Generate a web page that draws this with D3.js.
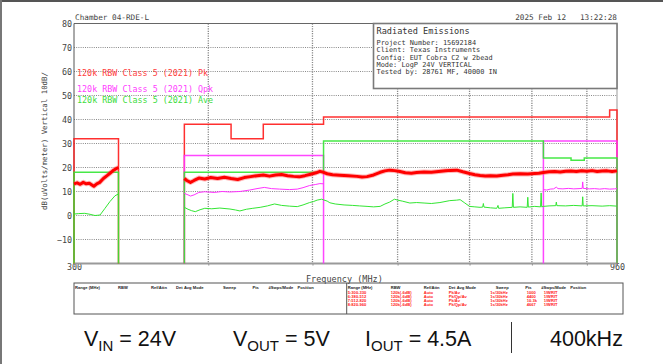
<!DOCTYPE html>
<html>
<head>
<meta charset="utf-8">
<script src="https://cdn.jsdelivr.net/npm/d3@7"></script>
<style>
  html, body { margin: 0; padding: 0; background: #fff; }
  svg { display: block; }
  .mono { font-family: "DejaVu Sans Mono", "Liberation Mono", monospace; }
</style>
</head>
<body>
<svg id="chart" width="663" height="364"></svg>
<script>
// ---- scan settings ----
const freqDomain = [300, 960];          // MHz, log axis
const levelDomain = [-20, 80];          // dB(uV/m)
const yTickValues = [80, 70, 60, 50, 40, 30, 20, 10, 0, -10];
const xGridValues = [400, 500, 600, 700, 800, 900];
const xTickLabels = [300, 960];

// ---- limit lines: [start MHz, stop MHz, level] ----
const pkLimit = [[300, 330, 32], [380, 420, 38], [420, 450, 32], [450, 512, 38], [512, 945, 41], [945, 960, 44]];
const qpLimit = [[380, 512, 25], [820, 960, 31]];
const avLimit = [[300, 330, 18], [380, 512, 18], [512, 820, 31], [820, 870, 24], [870, 895, 23], [895, 960, 24]];

// ---- measured traces: [MHz, level], null marks a gap between scan ranges ----
const pkTrace = [
  [300, 13.2], [302, 13.6], [304, 13.0], [306, 13.8], [308, 13.2], [310, 13.4], [312, 12.6], [313, 12.2],
  [315, 13.2], [317, 13.8], [319.5, 15.4], [322, 16.6], [324, 17.6], [326, 18.6], [328, 19.4], [330, 20.0],
  null,
  [380, 15.4], [382, 14.6], [385, 13.8], [388, 14.6], [392, 15.6], [397, 15.2], [402, 15.8], [408, 15.4],
  [414, 15.9], [420, 15.4], [426, 15.0], [432, 15.8], [438, 16.2], [444, 16.6], [450, 16.9], [456, 16.4],
  [462, 16.9], [468, 17.1], [474, 16.6], [480, 16.3], [486, 16.1], [492, 16.6], [498, 17.2], [504, 17.8],
  [508, 18.4], [512, 18.0],
  [516, 17.4], [522, 17.0], [530, 16.8], [540, 16.6], [550, 16.3], [556, 16.0], [562, 16.2], [570, 16.9],
  [578, 18.0], [584, 18.6], [590, 18.9], [596, 18.7], [603, 18.3], [610, 17.8], [618, 17.6], [625, 17.9],
  [635, 18.1], [645, 18.0], [655, 18.3], [665, 18.6], [672, 18.8], [681, 18.9], [690, 18.2], [700, 17.5],
  [708, 17.0], [716, 16.7], [724, 16.5], [732, 16.6], [742, 16.5], [752, 16.8], [760, 17.0], [768, 17.3],
  [780, 17.4], [793, 17.3], [805, 17.5], [812, 17.6], [820, 17.9],
  [830, 18.2], [840, 18.3], [850, 18.1], [860, 18.4], [870, 18.5], [880, 18.3], [890, 18.6], [900, 18.4],
  [910, 18.7], [920, 18.3], [930, 18.5], [940, 18.6], [950, 18.3], [960, 18.6]
];

const qpTrace = [
  null,
  [380, 9.2], [383, 8.6], [385, 8.1], [388, 8.6], [392, 9.6], [397, 9.9], [405, 9.6], [412, 10.0],
  [419, 9.8], [428, 10.0], [437, 10.6], [444, 11.2], [451, 11.7], [458, 11.2], [466, 11.0], [476, 10.8],
  [484, 11.0], [490, 11.6], [497, 12.5], [503, 12.9], [508, 13.3], [512, 13.2],
  null,
  [820, 10.8], [826, 10.6], [832, 11.0], [838, 11.1], [843, 11.8], [846, 11.2], [855, 11.1], [865, 11.3],
  [875, 11.1], [885, 11.2], [891, 11.3], [892, 14.0], [893, 11.3], [905, 11.1], [915, 11.2], [925, 11.0],
  [935, 11.2], [945, 11.0], [955, 11.1], [960, 11.2]
];

const avTrace = [
  [300, 0.6], [303, 0.8], [307, 0.9], [310.5, 0.5], [313.8, 0.0], [317.2, 0.2], [320.6, 3.0], [324, 5.8],
  [327.5, 8.2], [330, 9.0],
  null,
  [380, 3.4], [383, 2.6], [386, 2.0], [389, 1.6], [393, 2.4], [397, 3.0], [403, 2.8], [410, 3.1],
  [419, 2.7], [424, 2.3], [428, 1.9], [434, 2.6], [440, 3.0], [447, 3.4], [454, 4.0], [461, 4.8],
  [468, 4.2], [476, 3.9], [484, 3.7], [490, 4.4], [497, 5.4], [501, 5.8], [505, 6.4], [510, 6.8], [512, 6.5],
  [516, 6.0], [519, 5.3], [525, 4.8], [535, 4.4], [545, 4.2], [553, 4.0], [562, 3.8], [570, 3.6],
  [578, 3.8], [584, 4.8], [590, 5.6], [596, 6.8], [600, 6.4], [606, 6.0], [616, 5.2], [625, 5.4],
  [635, 5.2], [645, 5.0], [657, 5.4], [671, 6.2], [681, 6.4], [686, 6.6], [692, 5.4], [700, 3.8],
  [708, 3.6], [716, 3.4], [720, 3.5], [721, 5.0], [722, 3.5], [732, 3.2], [742, 3.0], [744, 4.2],
  [745, 3.0], [755, 3.2], [767, 3.4], [768, 9.2], [769, 3.4], [780, 3.6], [792, 3.4], [793, 7.6],
  [794, 3.5], [805, 3.8], [815, 3.6], [816, 9.4], [817, 3.6], [820, 3.8],
  [830, 4.0], [842, 4.1], [843, 5.6], [844, 4.1], [860, 4.0], [875, 4.2], [891, 4.0], [892, 7.8],
  [893, 4.0], [910, 4.1], [930, 3.9], [945, 4.1], [960, 3.9]
];

// ---- text content ----
const chamberLabel = "Chamber 04-RDE-L";
const dateLabel = "2025 Feb 12   13:22:28";
const infoTitle = "Radiated Emissions";
const infoLines = [
  "Project Number: 15692184",
  "Client: Texas Instruments",
  "Config: EUT Cobra C2 w 2bead",
  "Mode: LogP 24V VERTICAL",
  "Tested by: 28761 MF, 40000 IN"
];
const legendLabels = [
  "120k RBW Class 5 (2021) Pk",
  "120k RBW Class 5 (2021) Qpk",
  "120k RBW Class 5 (2021) Ave"
];
const yTitle = "dB(uVolts/meter) Vertical 10dB/";
const xTitle = "Frequency (MHz)";
const tableHeaders = ["Range (MHz)", "RBW", "Ref/Attn", "Det", "Avg Mode", "Sweep", "Pts", "#Swps/Mode", "Position"];
const tableRows = [
  ["5:300-330", "120k(-6dB)", "Auto", "Pk/Av", "", "1s/30kHz", "1000", "1/WRIT", ""],
  ["6:380-512", "120k(-6dB)", "Auto", "Pk/Qp/Av", "", "1s/30kHz", "4400", "1/WRIT", ""],
  ["7:512-820", "120k(-6dB)", "Auto", "Pk/Av", "", "1s/30kHz", "10.3k", "1/WRIT", ""],
  ["8:820-960", "120k(-6dB)", "Auto", "Pk/Qp/Av", "", "1s/30kHz", "4667", "1/WRIT", ""]
];

// ---- layout ----
const svg = d3.select("#chart");
const W = 663, H = 364;
const plot = { left: 74, right: 617, top: 23.5, bottom: 263.5 };

const colors = { pk: "#ff1a1a", qp: "#ff33ff", av: "#33e633", pkText: "#ff4040", qpText: "#ff40ff", avText: "#40dd40" };

const x = d3.scaleLog().domain(freqDomain).range([plot.left, plot.right]);
const y = d3.scaleLinear().domain(levelDomain).range([plot.bottom, plot.top]);

svg.append("rect").attr("width", W).attr("height", H).attr("fill", "#fff");

// page frame (top and left edges)
svg.append("line").attr("x1", 0).attr("x2", W).attr("y1", 1).attr("y2", 1).attr("stroke", "#555").attr("stroke-width", 2);
svg.append("line").attr("x1", 1).attr("x2", 1).attr("y1", 0).attr("y2", H).attr("stroke", "#777").attr("stroke-width", 2);

// grid
const grid = svg.append("g");
grid.selectAll("line.h").data(yTickValues.filter(v => v !== 80)).join("line")
  .attr("x1", plot.left).attr("x2", plot.right)
  .attr("y1", d => y(d)).attr("y2", d => y(d))
  .attr("stroke", "#8a8a8a").attr("stroke-width", 1).attr("stroke-dasharray", "1,1.2");
grid.selectAll("line.v").data(xGridValues).join("line")
  .attr("x1", d => x(d)).attr("x2", d => x(d))
  .attr("y1", plot.top).attr("y2", plot.bottom)
  .attr("stroke", "#8a8a8a").attr("stroke-width", 1.3).attr("stroke-dasharray", "1.2,1.2");

// frame of plot area
svg.append("line").attr("x1", plot.left).attr("x2", plot.right).attr("y1", plot.top).attr("y2", plot.top)
  .attr("stroke", "#666").attr("stroke-width", 1);
svg.append("line").attr("x1", plot.right).attr("x2", plot.right).attr("y1", plot.top).attr("y2", plot.bottom)
  .attr("stroke", "#999").attr("stroke-width", 1);
svg.append("line").attr("x1", plot.left).attr("x2", plot.left).attr("y1", plot.top).attr("y2", plot.bottom)
  .attr("stroke", "#555").attr("stroke-width", 1);

// y axis labels
const yAxis = d3.axisLeft(y).tickValues(yTickValues).tickSize(0).tickPadding(2).tickFormat(d3.format("d"));
const gy = svg.append("g").attr("transform", `translate(${plot.left},0)`).call(yAxis);
gy.select(".domain").remove();
gy.selectAll("text").attr("class", "mono").attr("font-size", 8.4).attr("fill", "#444").attr("dy", "0.34em");

// x axis: small ticks, labels only at range ends
const xTickValues = [freqDomain[0], ...xGridValues, freqDomain[1]];
const xAxis = d3.axisBottom(x).tickValues(xTickValues).tickSize(2).tickPadding(0)
  .tickFormat(d => xTickLabels.includes(d) ? String(d) : "");
const gx = svg.append("g").attr("transform", `translate(0,${plot.bottom})`).call(xAxis);
gx.select(".domain").remove();
gx.selectAll(".tick line").attr("stroke", "#888");
gx.selectAll("text").attr("class", "mono").attr("font-size", 8.4).attr("fill", "#444").attr("dy", "0.55em");
svg.append("line").attr("x1", plot.left).attr("x2", plot.right).attr("y1", plot.bottom).attr("y2", plot.bottom)
  .attr("stroke", "#9a9a9a").attr("stroke-width", 2);

// axis titles
svg.append("text").attr("class", "mono").attr("font-size", 7.4).attr("fill", "#444")
  .attr("text-anchor", "middle").attr("transform", "translate(46.5,141) rotate(-90)").text(yTitle);
svg.append("text").attr("class", "mono").attr("font-size", 8.5).attr("fill", "#444")
  .attr("x", 306).attr("y", 281.5).text(xTitle);

// header texts
svg.append("text").attr("class", "mono").attr("font-size", 7.7).attr("fill", "#444")
  .attr("x", 75).attr("y", 19.5).text(chamberLabel);
svg.append("text").attr("class", "mono").attr("font-size", 7.7).attr("fill", "#444")
  .attr("x", plot.right).attr("y", 19.5).attr("text-anchor", "end").attr("xml:space", "preserve").text(dateLabel);

// limit lines: contiguous segments joined into stepped paths that drop to the axis floor
function limitPoints(segs) {
  const groups = [];
  segs.forEach(s => {
    const g = groups[groups.length - 1];
    if (g && g[g.length - 1][1] === s[0]) g.push(s); else groups.push([s]);
  });
  return groups.map(g => {
    const pts = [[g[0][0], levelDomain[0]]];
    g.forEach(s => { pts.push([s[0], s[2]]); pts.push([s[1], s[2]]); });
    pts.push([g[g.length - 1][1], levelDomain[0]]);
    return pts;
  });
}
const line = d3.line().x(d => x(d[0])).y(d => y(d[1]));
const traceLine = d3.line().defined(d => d !== null).x(d => x(d[0])).y(d => y(d[1]));

const limits = svg.append("g").attr("fill", "none");
[[pkLimit, colors.pk], [qpLimit, colors.qp], [avLimit, colors.av]].forEach(([segs, c]) => {
  limits.selectAll(null).data(limitPoints(segs)).join("path")
    .attr("d", line).attr("stroke", c).attr("stroke-width", 1.5).attr("stroke-opacity", 0.9);
});

// traces
const traces = svg.append("g").attr("fill", "none").attr("stroke-linejoin", "round");
traces.append("path").attr("d", traceLine(avTrace)).attr("stroke", colors.av).attr("stroke-width", 1);
traces.append("path").attr("d", traceLine(qpTrace)).attr("stroke", colors.qp).attr("stroke-width", 1);
traces.append("path").attr("d", traceLine(pkTrace)).attr("stroke", "#ff5050").attr("stroke-width", 5).attr("stroke-opacity", 0.4);
traces.append("path").attr("d", traceLine(pkTrace)).attr("stroke", "#ff0000").attr("stroke-width", 3);

// legend
const legendColors = [colors.pkText, colors.qpText, colors.avText];
const legendY = [76, 92, 103];
svg.append("g").selectAll("text").data(legendLabels).join("text")
  .attr("class", "mono").attr("font-size", 8.4)
  .attr("x", 77).attr("y", (d, i) => legendY[i]).attr("fill", (d, i) => legendColors[i]).text(d => d);

// info box
const box = { x: 373.5, y: plot.top, w: plot.right - 373.5, h: 65 };
svg.append("rect").attr("x", box.x).attr("y", box.y).attr("width", box.w).attr("height", box.h)
  .attr("fill", "#fff").attr("stroke", "#7a7a7a").attr("stroke-width", 1.6);
svg.append("text").attr("class", "mono").attr("font-size", 8.6).attr("fill", "#333")
  .attr("x", box.x + 3).attr("y", 33.5).text(infoTitle);
svg.append("g").selectAll("text").data(infoLines).join("text")
  .attr("class", "mono").attr("font-size", 6.9).attr("fill", "#333")
  .attr("x", box.x + 3).attr("y", (d, i) => 44.8 + i * 7.4).text(d => d);

// settings table
const table = { x: 74, y: 283, w: 549, h: 31, mid: 346.7 };
svg.append("rect").attr("x", table.x).attr("y", table.y).attr("width", table.w).attr("height", table.h)
  .attr("fill", "none").attr("stroke", "#555").attr("stroke-width", 1);
svg.append("line").attr("x1", table.mid).attr("x2", table.mid).attr("y1", table.y).attr("y2", table.y + table.h)
  .attr("stroke", "#555").attr("stroke-width", 1);
const colOffsets = [1, 44, 77, 102, 110, 149, 178.5, 194.5, 223.5];
const colOffsetsRow = [1, 44, 77, 102, 110, 143.5, 180, 197, 223.5];
const tableFont = "Liberation Sans, Arial, sans-serif";
[table.x, table.mid].forEach(x0 => {
  svg.append("g").selectAll("text").data(tableHeaders).join("text")
    .attr("font-family", tableFont).attr("font-size", 4.1).attr("font-weight", "bold")
    .attr("fill", "#222").attr("x", (d, i) => x0 + colOffsets[i]).attr("y", 288.8).text(d => d);
});
tableRows.forEach((row, r) => {
  svg.append("g").selectAll("text").data(row).join("text")
    .attr("font-family", tableFont).attr("font-size", 4.1).attr("font-weight", "bold")
    .attr("fill", "#ff2020").attr("x", (d, i) => table.mid + colOffsetsRow[i]).attr("y", 293.6 + r * 4.1).text(d => d);
});

// operating conditions
const cond = svg.append("g").attr("font-family", "Liberation Sans, Arial, sans-serif").attr("fill", "#111");
function condText(x0, main, sub, rest) {
  const t = cond.append("text").attr("x", x0).attr("y", 346).attr("font-size", 21.5);
  t.append("tspan").text(main);
  if (sub) t.append("tspan").attr("font-size", 15).attr("dy", 5).text(sub);
  t.append("tspan").attr("dy", sub ? -5 : 0).text(rest);
}
condText(84, "V", "IN", " = 24V");
condText(233, "V", "OUT", " = 5V");
condText(365, "I", "OUT", " = 4.5A");
condText(550, "400kHz", null, "");
svg.append("line").attr("x1", 511.5).attr("x2", 511.5).attr("y1", 322).attr("y2", 353)
  .attr("stroke", "#333").attr("stroke-width", 1);
</script>
</body>
</html>
